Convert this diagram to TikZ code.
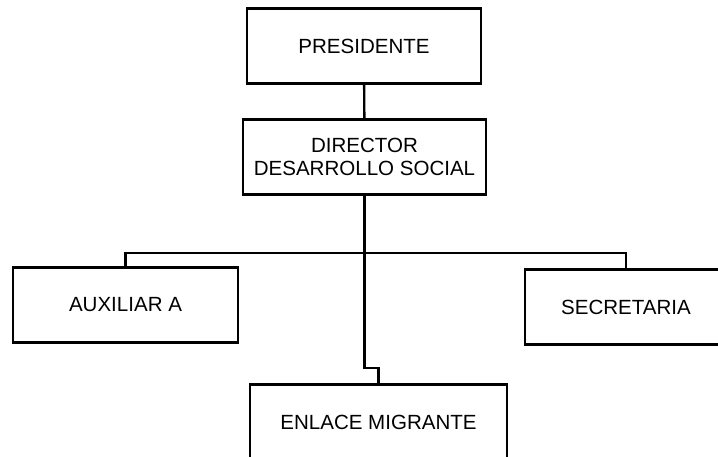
\documentclass[tikz,border=0pt]{standalone}
\usepackage{fontspec}
\setmainfont{Liberation Sans}
\tikzset{
  puesto/.style={draw,rectangle,line width=1.8pt,minimum height=56pt,inner sep=2pt,align=center,
    font=\fontsize{15.4}{17.5}\selectfont},
  linea/.style={line width=1.8pt}
}
\begin{document}
\begin{tikzpicture}[x=0.75pt,y=-0.75pt]
        \useasboundingbox (0,0) rectangle (718,457);
        \clip (0,0) rectangle (718,457);
        \node[puesto,minimum width=175.5pt](pres)at(364,46){PRESIDENTE};
        \node[puesto,minimum width=182.25pt](dir)at(364.5,157){DIRECTOR\\DESARROLLO SOCIAL};
        \node[puesto,minimum width=168.75pt](aux)at(125.5,305){AUXILIAR A};
        \node[puesto,minimum width=151.5pt](sec)at(626,307){SECRETARIA};
        \node[puesto,minimum width=192.75pt](enl)at(378.5,422){ENLACE MIGRANTE};
        \coordinate (bus) at (dir.south|-0,253);
        \coordinate (jog) at (dir.south|-0,368);
        \draw[linea](pres)--(dir);
        \draw[linea](dir.south)--(bus);
        \draw[linea](aux.north)|-(bus)-|(sec.north);
        \draw[linea](bus)--(jog)-|(enl.north);
    \end{tikzpicture}
\end{document}
